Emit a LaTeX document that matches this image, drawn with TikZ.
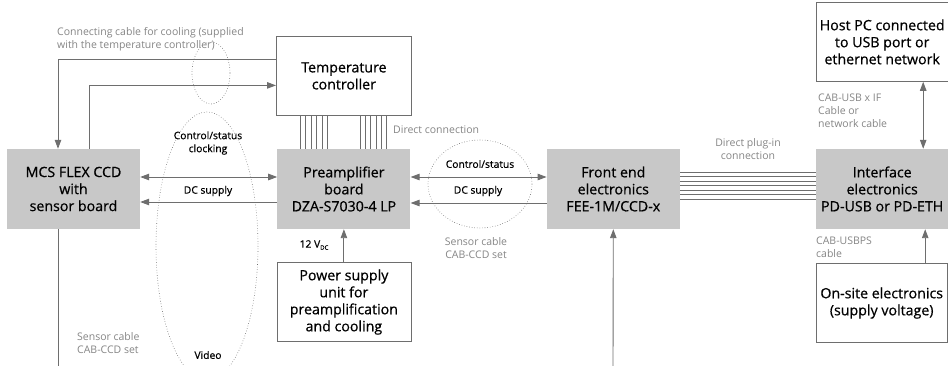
\documentclass[tikz,border=0pt]{standalone}
\usepackage{fontspec}
\setmainfont{Open Sans}
\newfontfamily\heavyfont{Open Sans}[FakeBold=0.6]
\usepackage{xcolor}
\usetikzlibrary{arrows.meta,positioning,calc}

\definecolor{boxgray}{HTML}{C8C8C8}
\definecolor{linegray}{HTML}{6E6E6E}
\definecolor{textgray}{HTML}{858585}

\begin{document}
\begin{tikzpicture}[
    x=1pt, y=-1pt,
    block/.style={rectangle, fill=boxgray, minimum width=133pt, minimum height=80pt, inner sep=0pt, align=center, font=\heavyfont\fontsize{14.2}{17}\selectfont},
    unit/.style={rectangle, draw=linegray, line width=0.8pt, fill=white, minimum width=134pt, minimum height=79pt, inner sep=0pt, align=center, font=\heavyfont\fontsize{14.2}{17}\selectfont},
    arrow/.style={-{Triangle[length=9pt,width=6.5pt]}, line width=0.9pt, linegray},
    sig/.style={{Triangle[length=9pt,width=6.5pt]}-{Triangle[length=9pt,width=6.5pt]}, line width=0.9pt, linegray},
    wire/.style={line width=0.9pt, linegray},
    strand/.style={line width=0.5pt, linegray},
    cable/.style={dotted, line width=0.6pt, linegray},
    note/.style={inner sep=0pt, align=left, text=textgray, font=\fontsize{10.5}{13}\selectfont},
    tag/.style={inner sep=0pt, align=center, font=\heavyfont\fontsize{10.3}{13}\selectfont}
]
    \clip (0,0) rectangle (948,366);

    \node[block] (mcs) at (73.5,189) {MCS FLEX CCD\\with\\sensor board};
    \node[block, right=137pt of mcs] (preamp) {Preamplifier\\board\\DZA-S7030-4 LP};
    \node[block, right=136pt of preamp] (fee) {Front end\\electronics\\FEE-1M/CCD-x};
    \node[block, right=136pt of fee, minimum width=132pt] (iface) {Interface\\electronics\\PD-USB or PD-ETH};
    \node[unit, above=33pt of preamp, minimum width=135pt] (temp) {Temperature\\controller};
    \node[unit, below=33pt of preamp] (psu) {Power supply\\unit for\\preamplification\\and cooling};
    \node[unit, above=67pt of iface, minimum width=132pt] (host) {Host PC connected\\to USB port or\\ethernet network};
    \node[unit, below=34pt of iface, minimum width=131pt, xshift=-0.5pt] (onsite) {On-site electronics\\(supply voltage)};

    \coordinate (mcsend) at (58,366);
    \coordinate (feein) at (613,366);

    % cooling cable
    \draw[arrow] ([yshift=16.5pt]temp.west) -| ([xshift=-15.5pt]mcs.north);
    \draw[arrow] ([xshift=15.5pt]mcs.north) |- ([yshift=-9.5pt]temp.west);
    \draw[cable] (211,73) ellipse (19 and 31);

    % sensor cable
    \draw[sig] ([yshift=12pt]mcs.east) -- ([yshift=12pt]preamp.west);
    \draw[arrow] ([yshift=-13pt]preamp.west) -- ([yshift=-13pt]mcs.east);
    \draw[wire] ([xshift=-15.5pt]mcs.south) -- (mcsend);
    \draw[cable] (207,246) ellipse (51 and 134);

    \draw[sig] ([yshift=12pt]preamp.east) -- ([yshift=12pt]fee.west);
    \draw[arrow] ([yshift=-14pt]fee.west) -- ([yshift=-14pt]preamp.east);
    \draw[cable] (480,184) ellipse (52 and 44);

    % direct connection
    \foreach \dx in {23,28.4,33.8,39.2,44.6,50,83,88.2,93.4,98.6,103.8,109}
        \draw[strand] ([xshift=\dx pt]preamp.north west) -- ([xshift=\dx pt]preamp.north west |- temp.south);
    \foreach \dy in {17,12.5,...,-10}
        \draw[strand] ([yshift=\dy pt]fee.east) -- ([yshift=\dy pt]iface.west);

    \draw[arrow] (psu.north) -- (preamp.south);
    \draw[arrow] (feein) -- (fee.south);
    \draw[sig] ([xshift=41pt]iface.north) -- ([xshift=41pt]iface.north |- host.south);
    \draw[arrow] ([xshift=43pt]iface.south |- onsite.north) -- ([xshift=43pt]iface.south);

    \node[note, anchor=west] (coolnote) at (57,39.5) {Connecting cable for cooling (supplied\\with the temperature controller)};
    \node[tag] (ctrl1) at (208,143) {Control/status\\clocking};
    \node[tag] (dc1) at (208,191) {DC supply};
    \node[note, anchor=west] (directnote) at (393,130) {Direct connection};
    \node[tag] (ctrl2) at (480,164) {Control/status};
    \node[tag] (dc2) at (478,191) {DC supply};
    \node[note, align=center] (sensornote) at (476,248.5) {Sensor cable\\CAB-CCD set};
    \node[tag] (volt) at (314,245) {12 V\raisebox{-2pt}{\fontsize{6}{6}\selectfont DC}};
    \node[note, align=center] (plugnote) at (748,149) {Direct plug-in\\connection};
    \node[note, anchor=west] (usbnote) at (818,111) {CAB-USB x IF\\Cable or\\network cable};
    \node[note, anchor=west] (psnote) at (816,247) {CAB-USBPS\\cable};
    \node[note, anchor=west] (sensornote2) at (77,343.5) {Sensor cable\\CAB-CCD set};
    \node[tag] (video) at (208,355) {Video};
\end{tikzpicture}
\end{document}
